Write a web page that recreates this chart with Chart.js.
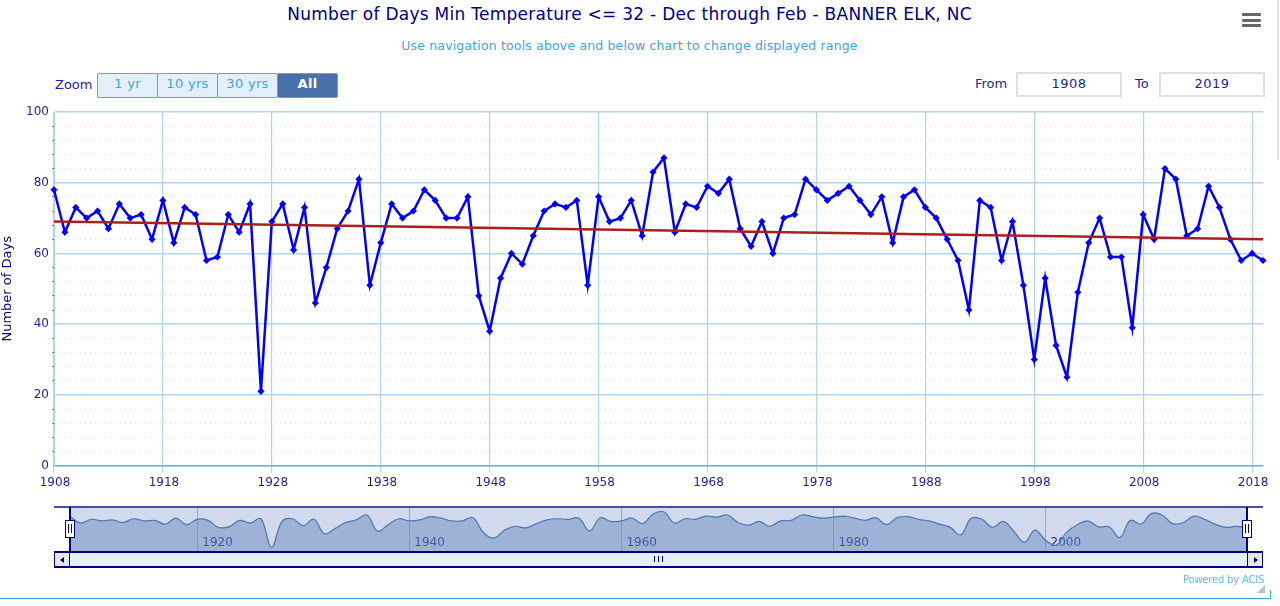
<!DOCTYPE html>
<html>
<head>
<meta charset="utf-8">
<title>Banner Elk</title>
<script src="https://cdn.jsdelivr.net/npm/chart.js@4"></script>
<style>
    html, body { margin: 0; padding: 0; width: 1280px; height: 606px; overflow: hidden; background: #fff; }
    body { font-family: "DejaVu Sans", sans-serif; color: #1f1f96; }
    canvas { position: absolute; left: 0; display: block; }
    .t { position: absolute; white-space: nowrap; }
    .box { position: absolute; box-sizing: border-box; }
    .btn { position: absolute; box-sizing: border-box; top: 73px; height: 25px; width: 61px; text-align: center;
           font-size: 13px; line-height: 20px; letter-spacing: .3px; background: #e3eff9; color: #3ea6de;
           border: 1px solid #4eaadf; border-radius: 2px; }
    .field { position: absolute; box-sizing: border-box; top: 72px; height: 25px; width: 106px; text-align: center;
             font-size: 13px; line-height: 20px; letter-spacing: .5px; border: 2px solid #e0e0e0; }
</style>
</head>
<body>
<div class="t" style="left:0;width:1259px;top:4px;text-align:center;font-size:17px;letter-spacing:.27px;color:#000080">Number of Days Min Temperature &lt;= 32 - Dec through Feb - BANNER ELK, NC</div>
<div class="t" style="left:0;width:1259px;top:38px;text-align:center;font-size:12.5px;letter-spacing:.16px;color:#3ea6de">Use navigation tools above and below chart to change displayed range</div>

<div class="box" style="left:1242px;top:13px;width:19px;height:3px;background:#666;border-radius:1px"></div>
<div class="box" style="left:1242px;top:19px;width:19px;height:3px;background:#666;border-radius:1px"></div>
<div class="box" style="left:1242px;top:24px;width:19px;height:3px;background:#666;border-radius:1px"></div>

<div class="t" style="left:55px;top:77px;font-size:13px">Zoom</div>
<div class="btn" style="left:97px">1 yr</div>
<div class="btn" style="left:157px">10 yrs</div>
<div class="btn" style="left:217px">30 yrs</div>
<div class="btn" style="left:277px;background:#4670a6;color:#fff;font-weight:bold">All</div>

<div class="t" style="left:975px;top:76px;font-size:13px">From</div>
<div class="field" style="left:1016px">1908</div>
<div class="t" style="left:1135px;top:76px;font-size:13px">To</div>
<div class="field" style="left:1159px">2019</div>

<canvas id="mainChart" width="1280" height="500" style="top:0"></canvas>

<!-- navigator -->
<div class="box" style="left:54px;top:506px;width:1209px;height:2px;background:#4a4aa8"></div>
<div class="box" style="left:70px;top:508px;width:1177px;height:43px;background:#d1daed"></div>
<canvas id="navChart" width="1280" height="70" style="top:500px"></canvas>
<div class="box" style="left:54px;top:551px;width:1209px;height:17px;background:#e3eff9;border:1px solid #000080;border-width:2px 1px"></div>
<div class="box" style="left:54px;top:551px;width:16px;height:17px;background:#e6e6e6;border:1px solid #000080;border-width:2px 1px"></div>
<div class="box" style="left:1247px;top:551px;width:16px;height:17px;background:#e6e6e6;border:1px solid #000080;border-width:2px 1px"></div>
<div class="box" style="left:60px;top:557px;border:3px solid transparent;border-left:0;border-right:4px solid #000080"></div>
<div class="box" style="left:1254px;top:557px;border:3px solid transparent;border-right:0;border-left:4px solid #000080"></div>
<div class="box" style="left:654px;top:556px;width:9px;height:6px;border-left:1px solid #000080;border-right:1px solid #000080"></div>
<div class="box" style="left:658px;top:556px;width:1px;height:6px;background:#000080"></div>
<div class="box" style="left:69px;top:507px;width:2px;height:44px;background:#000080"></div>
<div class="box" style="left:1246px;top:507px;width:2px;height:44px;background:#000080"></div>
<div class="box" style="left:65px;top:520px;width:10px;height:18px;background:#fff;border:1px solid #000080"></div>
<div class="box" style="left:68px;top:524px;width:4px;height:9px;border-left:1px solid #000080;border-right:1px solid #000080"></div>
<div class="box" style="left:1242px;top:520px;width:10px;height:18px;background:#fff;border:1px solid #000080"></div>
<div class="box" style="left:1245px;top:524px;width:4px;height:9px;border-left:1px solid #000080;border-right:1px solid #000080"></div>

<div class="t" style="left:1183px;top:574px;font-size:10px;letter-spacing:-.2px;color:#5fbbe8">Powered by ACIS</div>
<div class="box" style="left:1257px;top:585px;border-style:solid;border-width:0 0 8px 8px;border-color:transparent transparent #a9c4de transparent"></div>

<!-- page frame -->
<div class="box" style="left:0;top:598px;width:1271px;height:1px;background:#3ea6de"></div>
<div class="box" style="left:1270px;top:590px;width:1px;height:9px;background:#3ea6de"></div>
<div class="box" style="left:1277px;top:0;width:2px;height:160px;background:#e2e2e2"></div>

<script>
const years = [
    1908, 1909, 1910, 1911, 1912, 1913, 1914, 1915, 1916, 1917, 1918, 1919, 1920, 1921,
    1922, 1923, 1924, 1925, 1926, 1927, 1928, 1929, 1930, 1931, 1932, 1933, 1934, 1935,
    1936, 1937, 1938, 1939, 1940, 1941, 1942, 1943, 1944, 1945, 1946, 1947, 1948, 1949,
    1950, 1951, 1952, 1953, 1954, 1955, 1956, 1957, 1958, 1959, 1960, 1961, 1962, 1963,
    1964, 1965, 1966, 1967, 1968, 1969, 1970, 1971, 1972, 1973, 1974, 1975, 1976, 1977,
    1978, 1979, 1980, 1981, 1982, 1983, 1984, 1985, 1986, 1987, 1988, 1989, 1990, 1991,
    1992, 1993, 1994, 1995, 1996, 1997, 1998, 1999, 2000, 2001, 2002, 2003, 2004, 2005,
    2006, 2007, 2008, 2009, 2010, 2011, 2012, 2013, 2014, 2015, 2016, 2017, 2018, 2019
];
const days = [
    78, 66, 73, 70, 72, 67, 74, 70, 71, 64, 75, 63, 73, 71,
    58, 59, 71, 66, 74, 21, 69, 74, 61, 73, 46, 56, 67, 72,
    81, 51, 63, 74, 70, 72, 78, 75, 70, 70, 76, 48, 38, 53,
    60, 57, 65, 72, 74, 73, 75, 51, 76, 69, 70, 75, 65, 83,
    87, 66, 74, 73, 79, 77, 81, 67, 62, 69, 60, 70, 71, 81,
    78, 75, 77, 79, 75, 71, 76, 63, 76, 78, 73, 70, 64, 58,
    44, 75, 73, 58, 69, 51, 30, 53, 34, 25, 49, 63, 70, 59,
    59, 39, 71, 64, 84, 81, 65, 67, 79, 73, 64, 58, 60, 58
];
const trendYears = [1908, 2019];
const trendDays = [69, 64];
const xTicks = [1908, 1918, 1928, 1938, 1948, 1958, 1968, 1978, 1988, 1998, 2008, 2018];
const navTicks = [1920, 1940, 1960, 1980, 2000];

const fontName = '"DejaVu Sans", sans-serif';
const textColor = '#1f1f96';
const gridBlue = '#b3d3ec';

const toPoints = (xs, ys) => xs.map((x, i) => ({ x: x, y: ys[i] }));

// Main chart
new Chart(document.getElementById('mainChart').getContext('2d'), {
    type: 'line',
    data: {
        datasets: [{
            data: toPoints(trendYears, trendDays),
            borderColor: '#a8201c',
            borderWidth: 2.5,
            pointRadius: 0,
            order: 1
        }, {
            data: toPoints(years, days),
            borderColor: '#0000ff',
            backgroundColor: '#0000ff',
            borderWidth: 2.5,
            pointStyle: 'rectRot',
            pointRadius: 3.6,
            pointBorderWidth: 0,
            tension: 0,
            clip: false,
            order: 2
        }]
    },
    options: {
        responsive: false,
        animation: false,
        events: [],
        layout: { padding: { top: 112, right: 17, bottom: 0, left: 0 } },
        plugins: { legend: { display: false }, tooltip: { enabled: false } },
        scales: {
            x: {
                type: 'linear',
                min: 1908,
                max: 2019,
                afterBuildTicks: function(scale) {
                    scale.ticks = xTicks.map(v => ({ value: v }));
                },
                afterFit: function(scale) { scale.height = 34.4; },
                grid: { color: gridBlue, lineWidth: 1.2, tickLength: 7, tickColor: gridBlue },
                border: { color: '#5cb8e8', width: 1.5 },
                ticks: {
                    color: textColor,
                    font: { family: fontName, size: 12 },
                    padding: 3,
                    labelOffset: 1,
                    maxRotation: 0,
                    autoSkip: false,
                    callback: function(value) { return String(value); }
                }
            },
            y: {
                min: 0,
                max: 100,
                afterFit: function(scale) { scale.width = 54; },
                title: {
                    display: true,
                    text: 'Number of Days',
                    color: '#000080',
                    font: { family: fontName, size: 13 },
                    padding: { top: 0, bottom: 0 }
                },
                grid: {
                    color: ctx => ctx.tick.value % 20 === 0 ? gridBlue : '#dcdcdc',
                    lineWidth: ctx => ctx.tick.value % 20 === 0 ? 1.4 : 1,
                    tickLength: 2,
                    tickColor: ctx => ctx.tick.value % 20 === 0 ? 'rgba(0,0,0,0)' : '#777'
                },
                border: {
                    color: gridBlue,
                    dash: ctx => ctx.tick.value % 20 === 0 ? [] : [1, 4]
                },
                ticks: {
                    stepSize: 4,
                    color: textColor,
                    font: { family: fontName, size: 12 },
                    padding: 3,
                    autoSkip: false,
                    callback: function(value) { return value % 20 === 0 ? String(value) : ''; }
                }
            }
        }
    }
});

// Navigator strip under the chart
new Chart(document.getElementById('navChart').getContext('2d'), {
    type: 'line',
    data: {
        datasets: [{
            data: toPoints(years, days),
            borderColor: '#4a78b0',
            backgroundColor: 'rgba(105,138,189,0.5)',
            borderWidth: 1.2,
            pointRadius: 0,
            tension: 0.4,
            fill: 'start'
        }]
    },
    options: {
        responsive: false,
        animation: false,
        events: [],
        layout: { padding: { top: 8, right: 33, bottom: 19, left: 70 } },
        plugins: { legend: { display: false }, tooltip: { enabled: false } },
        scales: {
            x: {
                type: 'linear',
                min: 1908,
                max: 2019,
                afterBuildTicks: function(scale) {
                    scale.ticks = navTicks.map(v => ({ value: v }));
                },
                afterFit: function(scale) { scale.height = 0; },
                grid: { color: '#8fa8cc', lineWidth: 1, drawTicks: false },
                border: { display: false },
                ticks: {
                    color: textColor,
                    font: { family: fontName, size: 12 },
                    align: 'start',
                    labelOffset: 5,
                    mirror: true,   // label area is not clipped to the zero-height axis this way
                    padding: 1,
                    maxRotation: 0,
                    autoSkip: false,
                    callback: function(value) { return String(value); }
                }
            },
            y: { display: false, min: 14, max: 94 }
        }
    }
});
</script>
</body>
</html>
